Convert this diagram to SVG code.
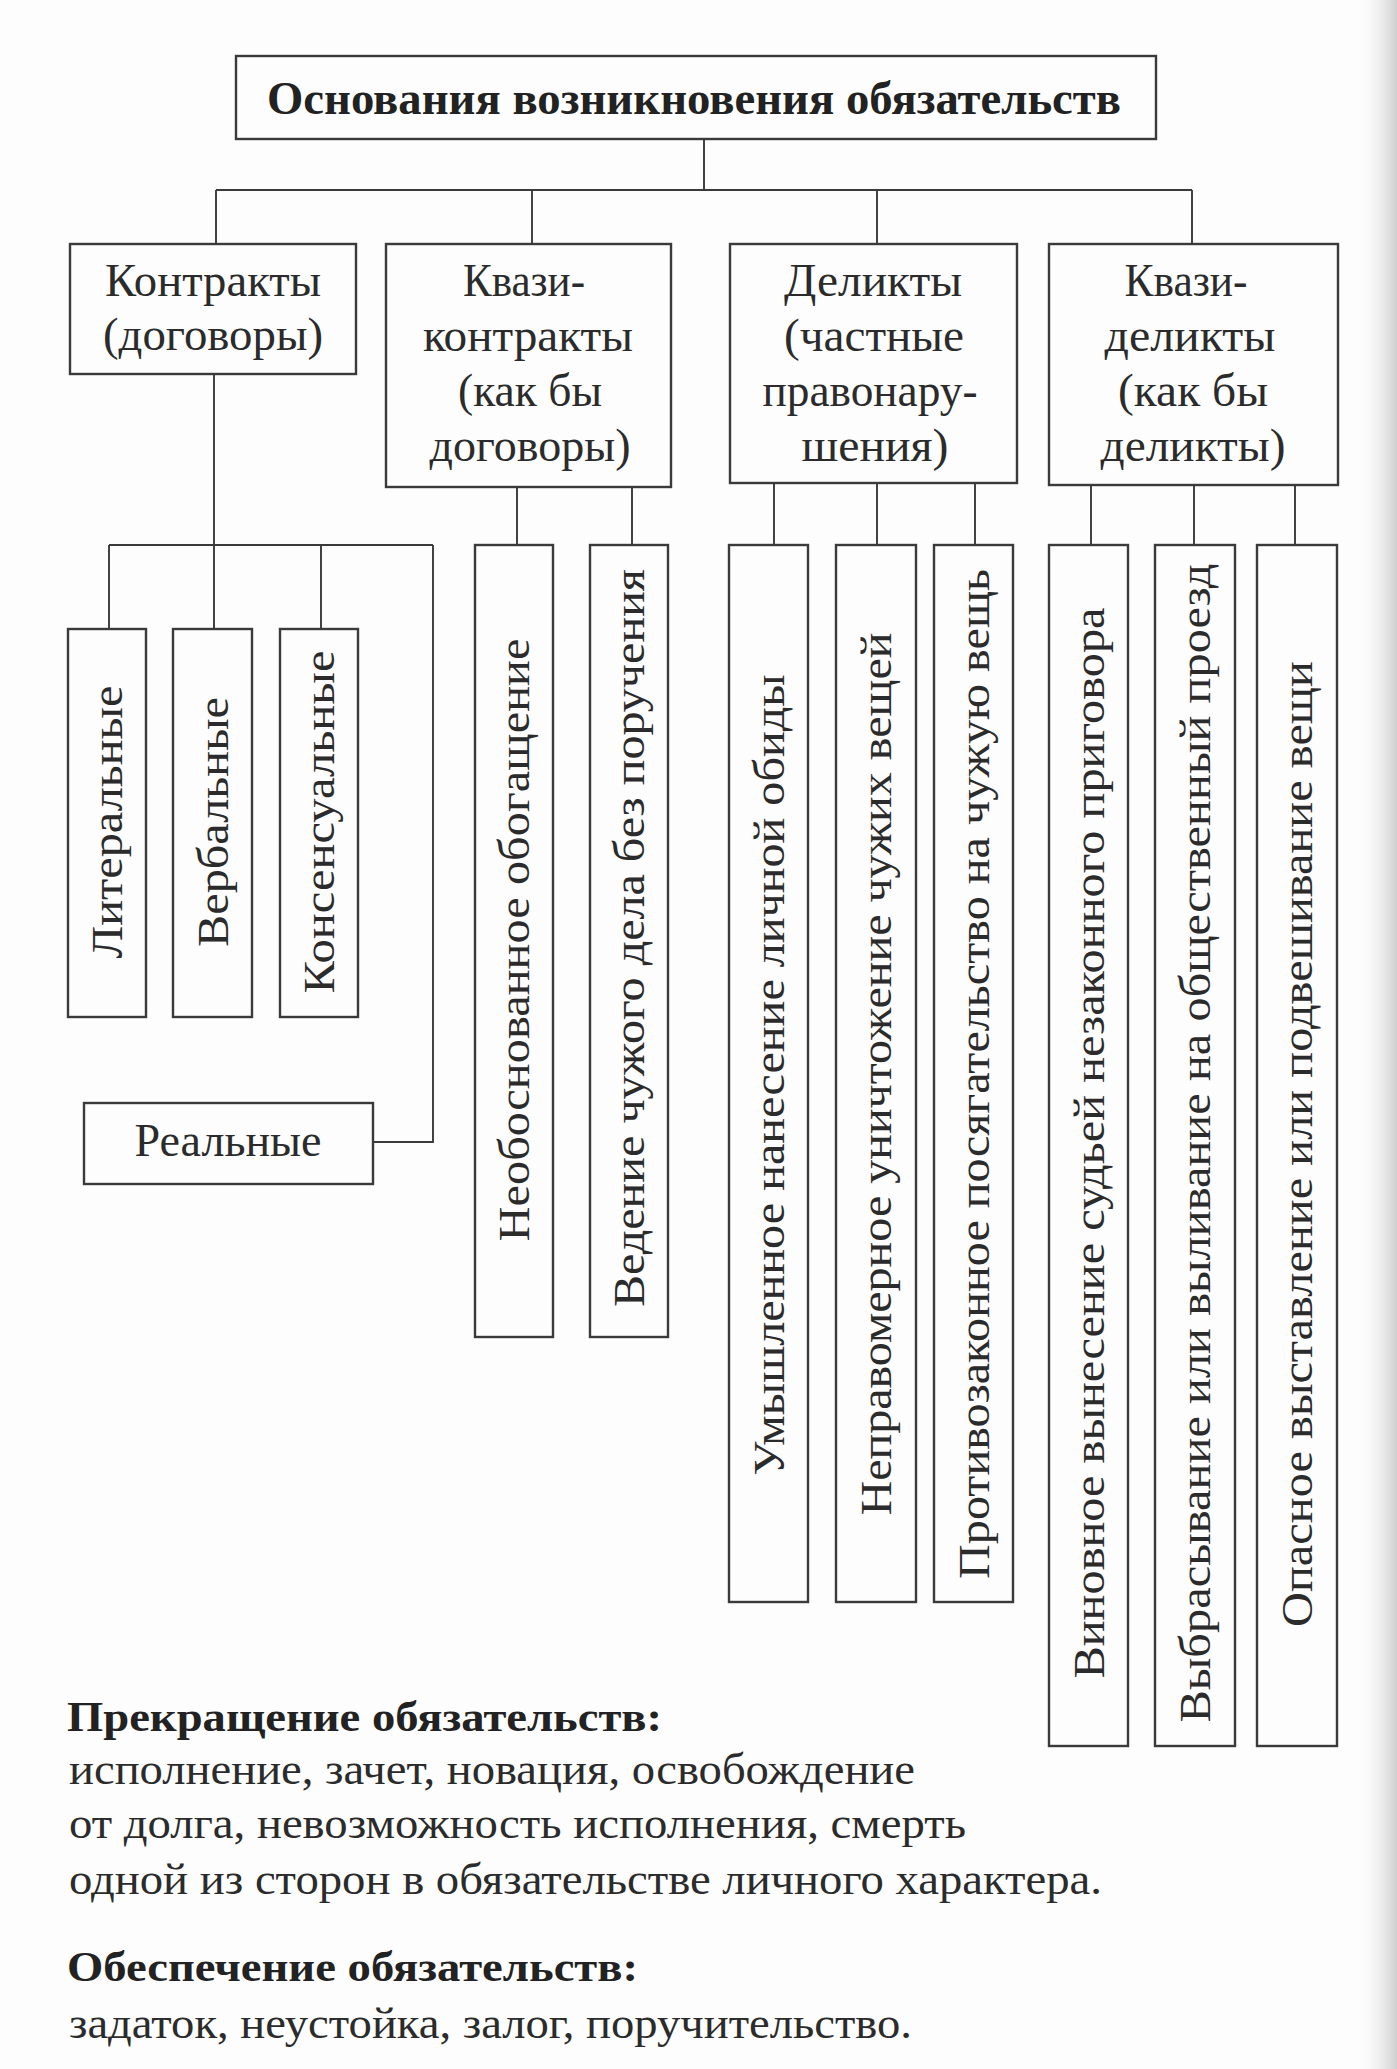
<svg xmlns="http://www.w3.org/2000/svg" width="1397" height="2069" viewBox="0 0 1397 2069">
<defs>
<linearGradient id="edge" x1="0" y1="0" x2="1" y2="0">
<stop offset="0" stop-color="#ffffff" stop-opacity="0"/>
<stop offset="1" stop-color="#cfcfcf"/>
</linearGradient>
</defs>
<style>
.box{fill:none;stroke:#3a3a3a;stroke-width:2.4}
.ln{fill:none;stroke:#3a3a3a;stroke-width:1.9}
.t{font-family:"Liberation Serif","Times New Roman",serif;fill:#2b2b2b;text-anchor:middle;font-size:47px}
.v{font-family:"Liberation Serif","Times New Roman",serif;fill:#2b2b2b;text-anchor:middle;font-size:45px}
.title{font-family:"Liberation Serif","Times New Roman",serif;fill:#222;text-anchor:middle;font-size:46px;font-weight:bold}
.h{font-family:"Liberation Serif","Times New Roman",serif;fill:#222;font-size:42px;font-weight:bold}
.b{font-family:"Liberation Serif","Times New Roman",serif;fill:#2b2b2b;font-size:44px}
</style>
<rect x="0" y="0" width="1397" height="2069" fill="#fdfdfd"/>
<rect x="1355" y="0" width="42" height="2069" fill="url(#edge)"/>

<g id="connectors">
<path class="ln" d="M704,139 V190 M216,190 H1192 M216,190 V244 M532,190 V244 M877,190 V244 M1192,190 V244"/>
<path class="ln" d="M214,374 V629 M109,545 H433 M109,545 V629 M321,545 V629 M433,545 V1142 H373"/>
<path class="ln" d="M517,487 V545 M632,487 V545"/>
<path class="ln" d="M774,483 V545 M877,483 V545 M975,483 V545"/>
<path class="ln" d="M1091,485 V545 M1194,485 V545 M1295,485 V545"/>
</g>

<g id="root">
<rect class="box" x="236" y="56" width="920" height="83"/>
<text class="title" x="694" y="114" textLength="854" lengthAdjust="spacingAndGlyphs">Основания возникновения обязательств</text>
</g>

<g id="contracts">
<rect class="box" x="70" y="244" width="286" height="130"/>
<text class="t" x="213" y="296" textLength="216" lengthAdjust="spacingAndGlyphs">Контракты</text>
<text class="t" x="213" y="350" textLength="220" lengthAdjust="spacingAndGlyphs">(договоры)</text>
</g>

<g id="quasi-contracts">
<rect class="box" x="386" y="244" width="285" height="243"/>
<text class="t" x="524" y="296" textLength="122" lengthAdjust="spacingAndGlyphs">Квази-</text>
<text class="t" x="528" y="351" textLength="210" lengthAdjust="spacingAndGlyphs">контракты</text>
<text class="t" x="530" y="406" textLength="144" lengthAdjust="spacingAndGlyphs">(как бы</text>
<text class="t" x="530" y="461" textLength="201" lengthAdjust="spacingAndGlyphs">договоры)</text>
</g>

<g id="delicts">
<rect class="box" x="730" y="244" width="287" height="239"/>
<text class="t" x="873" y="296" textLength="178" lengthAdjust="spacingAndGlyphs">Деликты</text>
<text class="t" x="874" y="351" textLength="180" lengthAdjust="spacingAndGlyphs">(частные</text>
<text class="t" x="870" y="406" textLength="215" lengthAdjust="spacingAndGlyphs">правонару-</text>
<text class="t" x="875" y="461" textLength="147" lengthAdjust="spacingAndGlyphs">шения)</text>
</g>

<g id="quasi-delicts">
<rect class="box" x="1049" y="244" width="289" height="241"/>
<text class="t" x="1186" y="296" textLength="123" lengthAdjust="spacingAndGlyphs">Квази-</text>
<text class="t" x="1190" y="351" textLength="171" lengthAdjust="spacingAndGlyphs">деликты</text>
<text class="t" x="1193" y="406" textLength="150" lengthAdjust="spacingAndGlyphs">(как бы</text>
<text class="t" x="1193" y="461" textLength="185" lengthAdjust="spacingAndGlyphs">деликты)</text>
</g>

<g id="literal">
<rect class="box" x="68" y="629" width="78" height="388"/>
<text class="v" transform="translate(122,822) rotate(-90)" textLength="273" lengthAdjust="spacingAndGlyphs">Литеральные</text>
</g>
<g id="verbal">
<rect class="box" x="173" y="629" width="79" height="388"/>
<text class="v" transform="translate(228,822) rotate(-90)" textLength="250" lengthAdjust="spacingAndGlyphs">Вербальные</text>
</g>
<g id="consensual">
<rect class="box" x="280" y="629" width="78" height="388"/>
<text class="v" transform="translate(334,822) rotate(-90)" textLength="343" lengthAdjust="spacingAndGlyphs">Консенсуальные</text>
</g>
<g id="real">
<rect class="box" x="84" y="1103" width="289" height="81"/>
<text class="t" x="228" y="1156" textLength="187" lengthAdjust="spacingAndGlyphs">Реальные</text>
</g>

<g id="unjust-enrichment">
<rect class="box" x="475" y="545" width="78" height="792"/>
<text class="v" transform="translate(529,940) rotate(-90)" textLength="603" lengthAdjust="spacingAndGlyphs">Необоснованное обогащение</text>
</g>
<g id="negotiorum">
<rect class="box" x="590" y="545" width="78" height="792"/>
<text class="v" transform="translate(644,938) rotate(-90)" textLength="738" lengthAdjust="spacingAndGlyphs">Ведение чужого дела без поручения</text>
</g>

<g id="iniuria">
<rect class="box" x="729" y="545" width="79" height="1057"/>
<text class="v" transform="translate(784,1075) rotate(-90)" textLength="801" lengthAdjust="spacingAndGlyphs">Умышленное нанесение личной обиды</text>
</g>
<g id="damnum">
<rect class="box" x="836" y="545" width="80" height="1057"/>
<text class="v" transform="translate(891,1074) rotate(-90)" textLength="883" lengthAdjust="spacingAndGlyphs">Неправомерное уничтожение чужих вещей</text>
</g>
<g id="furtum">
<rect class="box" x="934" y="545" width="79" height="1057"/>
<text class="v" transform="translate(989,1074) rotate(-90)" textLength="1010" lengthAdjust="spacingAndGlyphs">Противозаконное посягательство на чужую вещь</text>
</g>

<g id="judex">
<rect class="box" x="1049" y="545" width="79" height="1201"/>
<text class="v" transform="translate(1104,1143) rotate(-90)" textLength="1071" lengthAdjust="spacingAndGlyphs">Виновное вынесение судьей незаконного приговора</text>
</g>
<g id="effusum">
<rect class="box" x="1155" y="545" width="80" height="1201"/>
<text class="v" transform="translate(1210,1143) rotate(-90)" textLength="1159" lengthAdjust="spacingAndGlyphs">Выбрасывание или выливание на общественный проезд</text>
</g>
<g id="positum">
<rect class="box" x="1257" y="545" width="80" height="1201"/>
<text class="v" transform="translate(1312,1144) rotate(-90)" textLength="966" lengthAdjust="spacingAndGlyphs">Опасное выставление или подвешивание вещи</text>
</g>

<g id="notes">
<text class="h" x="67" y="1731" textLength="595" lengthAdjust="spacingAndGlyphs">Прекращение обязательств:</text>
<text class="b" x="69" y="1784" textLength="846" lengthAdjust="spacingAndGlyphs">исполнение, зачет, новация, освобождение</text>
<text class="b" x="69" y="1838" textLength="897" lengthAdjust="spacingAndGlyphs">от долга, невозможность исполнения, смерть</text>
<text class="b" x="69" y="1894" textLength="1033" lengthAdjust="spacingAndGlyphs">одной из сторон в обязательстве личного характера.</text>
<text class="h" x="67" y="1981" textLength="571" lengthAdjust="spacingAndGlyphs">Обеспечение обязательств:</text>
<text class="b" x="69" y="2038" textLength="843" lengthAdjust="spacingAndGlyphs">задаток, неустойка, залог, поручительство.</text>
</g>
</svg>
